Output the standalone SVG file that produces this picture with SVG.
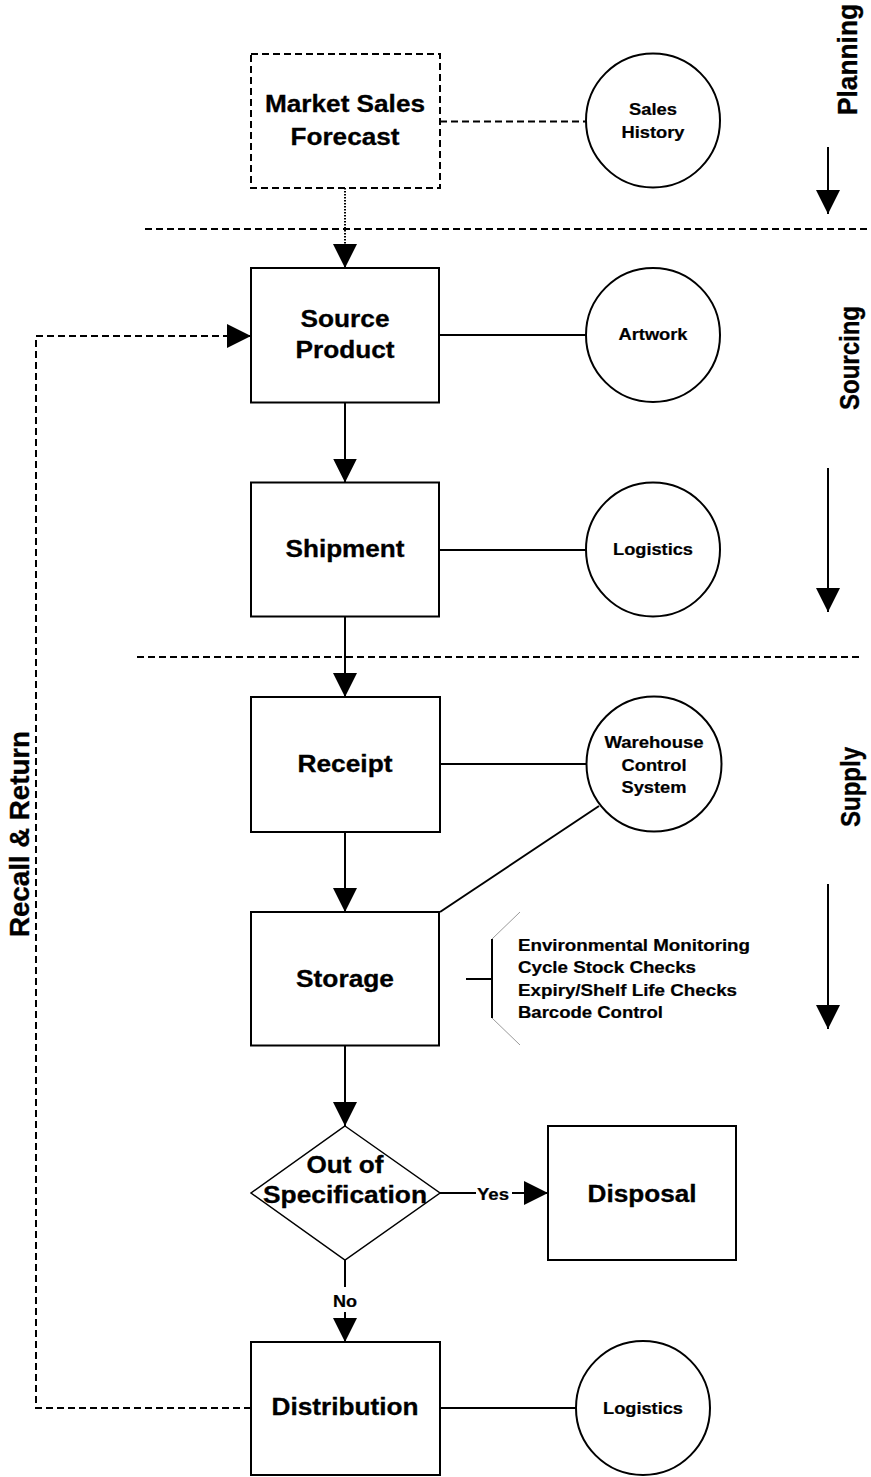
<svg xmlns="http://www.w3.org/2000/svg" width="871" height="1477" viewBox="0 0 871 1477">
  <defs>
    <style>
      .box { fill: #fff; stroke: #000; stroke-width: 2; }
      .dashbox { fill: #fff; stroke: #000; stroke-width: 2; stroke-dasharray: 7 4; }
      .circ { fill: #fff; stroke: #000; stroke-width: 2; }
      .dia { fill: #fff; stroke: #000; stroke-width: 1.5; }
      .ln { fill: none; stroke: #000; stroke-width: 2; }
      .dash { fill: none; stroke: #000; stroke-width: 2; stroke-dasharray: 7 4; }
      .dot { fill: none; stroke: #000; stroke-width: 2; stroke-dasharray: 1.5 1.5; }
      .thin { fill: none; stroke: #9a9a9a; stroke-width: 1; }
      .big { font-family: "Liberation Sans", Arial, sans-serif; font-weight: bold; font-size: 23px; text-anchor: middle; fill: #000; stroke: #000; stroke-width: 0.3; }
      .small { font-family: "Liberation Sans", Arial, sans-serif; font-weight: bold; font-size: 16px; text-anchor: middle; fill: #000; stroke: #000; stroke-width: 0.2; }
      .list { font-family: "Liberation Sans", Arial, sans-serif; font-weight: bold; font-size: 16px; fill: #000; stroke: #000; stroke-width: 0.2; }
      .side { font-family: "Liberation Sans", Arial, sans-serif; font-weight: bold; font-size: 24px; fill: #000; stroke: #000; stroke-width: 0.3; }
    </style>
    <marker id="head" markerUnits="userSpaceOnUse" markerWidth="24" markerHeight="24" refX="24" refY="12" orient="auto">
      <path d="M0,0 L24,12 L0,24 Z" fill="#000"/>
    </marker>
  </defs>

  <!-- phase separators -->
  <g id="separators">
    <line class="dash" x1="145" y1="229" x2="871" y2="229"/>
    <line class="dash" x1="137" y1="657" x2="860" y2="657"/>
  </g>

  <!-- phase labels with their downward arrows -->
  <g id="phase-planning">
    <text class="side" transform="translate(857,115) scale(1.14,1) rotate(-90)" textLength="111" lengthAdjust="spacingAndGlyphs">Planning</text>
    <line class="ln" x1="828" y1="147" x2="828" y2="214" marker-end="url(#head)"/>
  </g>
  <g id="phase-sourcing">
    <text class="side" transform="translate(859,410) scale(1.14,1) rotate(-90)" textLength="104" lengthAdjust="spacingAndGlyphs">Sourcing</text>
    <line class="ln" x1="828" y1="468" x2="828" y2="612" marker-end="url(#head)"/>
  </g>
  <g id="phase-supply">
    <text class="side" transform="translate(860,827) scale(1.14,1) rotate(-90)" textLength="80" lengthAdjust="spacingAndGlyphs">Supply</text>
    <line class="ln" x1="828" y1="884" x2="828" y2="1029" marker-end="url(#head)"/>
  </g>

  <!-- connectors -->
  <g id="connectors">
    <line class="dot" x1="345" y1="188" x2="345" y2="268" marker-end="url(#head)"/>
    <line class="dash" x1="440" y1="121.5" x2="586" y2="121.5"/>
    <line class="ln" x1="439" y1="335" x2="586" y2="335"/>
    <line class="ln" x1="345" y1="402.5" x2="345" y2="482.5" marker-end="url(#head)"/>
    <line class="ln" x1="439" y1="550" x2="586" y2="550"/>
    <line class="ln" x1="345" y1="616.5" x2="345" y2="697" marker-end="url(#head)"/>
    <line class="ln" x1="440" y1="764" x2="586.5" y2="764"/>
    <line class="ln" x1="599" y1="806" x2="440" y2="912"/>
    <line class="ln" x1="345" y1="832" x2="345" y2="912" marker-end="url(#head)"/>
    <line class="ln" x1="345" y1="1045.5" x2="345" y2="1126" marker-end="url(#head)"/>
    <line class="ln" x1="440" y1="1193" x2="476" y2="1193"/>
    <text class="small" x="493" y="1200" textLength="32" lengthAdjust="spacingAndGlyphs">Yes</text>
    <line class="ln" x1="512" y1="1193" x2="548" y2="1193" marker-end="url(#head)"/>
    <line class="ln" x1="345" y1="1260" x2="345" y2="1287"/>
    <text class="small" x="345" y="1307" textLength="24" lengthAdjust="spacingAndGlyphs">No</text>
    <line class="ln" x1="345" y1="1312" x2="345" y2="1342" marker-end="url(#head)"/>
    <line class="ln" x1="440" y1="1408" x2="576" y2="1408"/>
    <path class="dash" d="M251,1408 H36 V336 H251" marker-end="url(#head)"/>
  </g>

  <g id="recall-label">
    <text class="side" transform="translate(28.5,937) scale(1.14,1) rotate(-90)" textLength="206" lengthAdjust="spacingAndGlyphs">Recall &amp; Return</text>
  </g>

  <!-- process nodes -->
  <g id="market-sales-forecast">
    <rect class="dashbox" x="251" y="54" width="189" height="134"/>
    <text class="big" x="345" y="112" textLength="160" lengthAdjust="spacingAndGlyphs">Market Sales</text>
    <text class="big" x="345" y="145" textLength="109" lengthAdjust="spacingAndGlyphs">Forecast</text>
  </g>
  <g id="sales-history">
    <circle class="circ" cx="653" cy="120.5" r="67"/>
    <text class="small" x="653" y="115" textLength="48" lengthAdjust="spacingAndGlyphs">Sales</text>
    <text class="small" x="653" y="138" textLength="63" lengthAdjust="spacingAndGlyphs">History</text>
  </g>

  <g id="source-product">
    <rect class="box" x="251" y="268" width="188" height="134.5"/>
    <text class="big" x="345" y="327" textLength="89" lengthAdjust="spacingAndGlyphs">Source</text>
    <text class="big" x="345" y="358" textLength="99" lengthAdjust="spacingAndGlyphs">Product</text>
  </g>
  <g id="artwork">
    <circle class="circ" cx="653" cy="335" r="67"/>
    <text class="small" x="653" y="340" textLength="69" lengthAdjust="spacingAndGlyphs">Artwork</text>
  </g>

  <g id="shipment">
    <rect class="box" x="251" y="482.5" width="188" height="134"/>
    <text class="big" x="345" y="557" textLength="119" lengthAdjust="spacingAndGlyphs">Shipment</text>
  </g>
  <g id="logistics-shipment">
    <circle class="circ" cx="653" cy="549.5" r="67"/>
    <text class="small" x="653" y="555" textLength="80" lengthAdjust="spacingAndGlyphs">Logistics</text>
  </g>

  <g id="receipt">
    <rect class="box" x="251" y="697" width="189" height="135"/>
    <text class="big" x="345" y="772" textLength="95" lengthAdjust="spacingAndGlyphs">Receipt</text>
  </g>
  <g id="warehouse-control-system">
    <circle class="circ" cx="654" cy="764" r="67.5"/>
    <text class="small" x="654" y="748" textLength="99" lengthAdjust="spacingAndGlyphs">Warehouse</text>
    <text class="small" x="654" y="770.5" textLength="65" lengthAdjust="spacingAndGlyphs">Control</text>
    <text class="small" x="654" y="793" textLength="65" lengthAdjust="spacingAndGlyphs">System</text>
  </g>

  <g id="storage">
    <rect class="box" x="251" y="912" width="188" height="133.5"/>
    <text class="big" x="345" y="987" textLength="98" lengthAdjust="spacingAndGlyphs">Storage</text>
  </g>
  <g id="storage-checks">
    <line class="ln" x1="466" y1="979" x2="492" y2="979"/>
    <line class="ln" x1="492" y1="939" x2="492" y2="1018"/>
    <line class="thin" x1="492" y1="939" x2="520" y2="912"/>
    <line class="thin" x1="492" y1="1018" x2="520" y2="1045"/>
    <text class="list" x="518" y="951" textLength="232" lengthAdjust="spacingAndGlyphs">Environmental Monitoring</text>
    <text class="list" x="518" y="973" textLength="178" lengthAdjust="spacingAndGlyphs">Cycle Stock Checks</text>
    <text class="list" x="518" y="995.5" textLength="219" lengthAdjust="spacingAndGlyphs">Expiry/Shelf Life Checks</text>
    <text class="list" x="518" y="1017.5" textLength="145" lengthAdjust="spacingAndGlyphs">Barcode Control</text>
  </g>

  <g id="out-of-specification">
    <path class="dia" d="M345,1126 L440,1193 L345,1260 L251,1193 Z"/>
    <text class="big" x="345" y="1173" textLength="77" lengthAdjust="spacingAndGlyphs">Out of</text>
    <text class="big" x="345" y="1203" textLength="164" lengthAdjust="spacingAndGlyphs">Specification</text>
  </g>
  <g id="disposal">
    <rect class="box" x="548" y="1126" width="188" height="134"/>
    <text class="big" x="642" y="1202" textLength="109" lengthAdjust="spacingAndGlyphs">Disposal</text>
  </g>

  <g id="distribution">
    <rect class="box" x="251" y="1342" width="189" height="133"/>
    <text class="big" x="345" y="1415" textLength="147" lengthAdjust="spacingAndGlyphs">Distribution</text>
  </g>
  <g id="logistics-distribution">
    <circle class="circ" cx="643" cy="1408" r="67"/>
    <text class="small" x="643" y="1413.5" textLength="80" lengthAdjust="spacingAndGlyphs">Logistics</text>
  </g>
</svg>
